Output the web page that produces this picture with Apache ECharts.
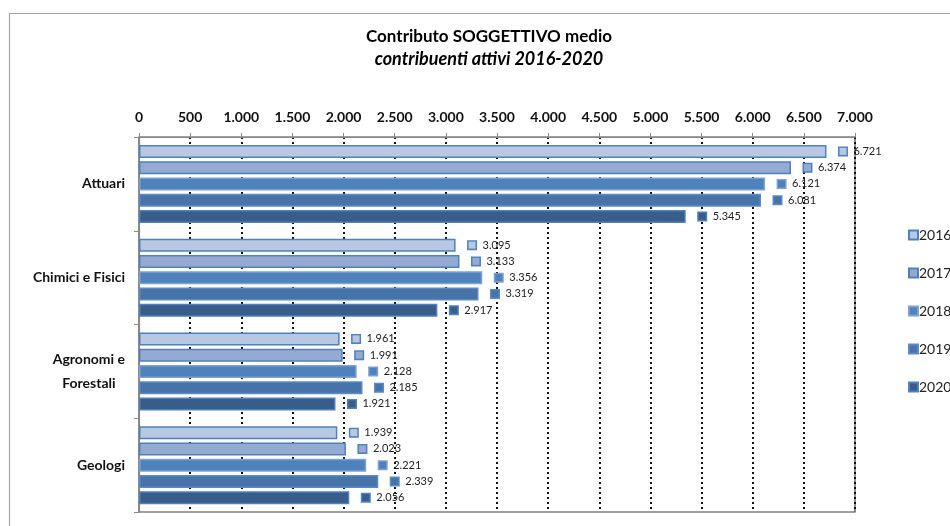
<!DOCTYPE html>
<html><head><meta charset="utf-8">
<script src="https://cdn.jsdelivr.net/npm/echarts@6/dist/echarts.min.js"></script>
<style>html,body{margin:0;padding:0;background:#fff}#c{width:950px;height:526px}</style>
</head><body><div id="c"></div>
<script>
var categories = ['Attuari', 'Chimici e Fisici', 'Agronomi e\nForestali', 'Geologi'];
var years = ['2016', '2017', '2018', '2019', '2020'];
var v2016 = [6721, 3095, 1961, 1939];
var v2017 = [6374, 3133, 1991, 2023];
var v2018 = [6121, 3356, 2128, 2221];
var v2019 = [6081, 3319, 2185, 2339];
var v2020 = [5345, 2917, 1921, 2056];
var seriesValues = [v2016, v2017, v2018, v2019, v2020];
var fills = ['#B9C8E2', '#95AAD2', '#4F81BD', '#4673A8', '#385D8A'];
var borders = ['#4F81BD', '#4F81BD', '#7EA1D3', '#5B8AC6', '#4F81BD'];
var FONT = 'Lato, "Liberation Sans", sans-serif';

function fmt(v) { return String(v).replace(/\B(?=(\d{3})+(?!\d))/g, '.'); }

var chart = echarts.init(document.getElementById('c'), null, {renderer: 'canvas'});
var series = years.map(function (y, i) {
  return {
    name: y, type: 'bar', data: seriesValues[i],
    barWidth: 13, barGap: '25%',
    itemStyle: {color: fills[i], borderColor: borders[i], borderWidth: 1.5},
    label: {
      show: true, position: 'right', distance: 13,
      formatter: function (p) { return '{sq|}{t|' + fmt(p.value) + '}'; },
      rich: {
        sq: {width: 7, height: 7, backgroundColor: fills[i], borderColor: borders[i], borderWidth: 1.5},
        t: {fontFamily: FONT, fontSize: 11, color: '#222', padding: [0, 0, 0, 7]}
      }
    }
  };
});

chart.setOption({
  animation: false,
  backgroundColor: '#fff',
  graphic: [{type: 'rect', left: 7, top: 11, shape: {width: 1100, height: 800}, style: {fill: 'none', stroke: '#A6A6A6', lineWidth: 1.2}, silent: true, z: -1}],
  title: {
    text: 'Contributo SOGGETTIVO medio',
    subtext: 'contribuenti attivi 2016-2020',
    left: 484, textAlign: 'center', top: 23, itemGap: 5,
    textStyle: {fontFamily: FONT, fontSize: 17, fontWeight: 'bold', color: '#000'},
    subtextStyle: {fontFamily: FONT, fontSize: 18, fontWeight: 'bold', fontStyle: 'italic', color: '#000'}
  },
  legend: {
    orient: 'vertical', left: 903, top: 223, itemGap: 24,
    itemWidth: 9, itemHeight: 9, icon: 'rect',
    textStyle: {fontFamily: FONT, fontSize: 14, color: '#222', padding: [0, 0, 0, -4]},
    data: years
  },
  grid: {left: 139, right: 95, top: 137, bottom: 14, show: true, borderColor: '#404040', borderWidth: 1.2},
  xAxis: {
    type: 'value', position: 'top', min: 0, max: 7000, interval: 500,
    axisLine: {show: true, lineStyle: {color: '#888', width: 1.2}},
    axisTick: {show: true, length: 4, lineStyle: {color: '#888'}},
    axisLabel: {fontFamily: FONT, fontSize: 14, fontWeight: 'bold', color: '#111', margin: 13, formatter: fmt},
    splitLine: {show: true, showMinLine: false, lineStyle: {color: '#111', type: [2, 3], width: 2}}
  },
  yAxis: {
    type: 'category', data: categories, inverse: true,
    axisLine: {show: true, lineStyle: {color: '#888', width: 1.2}},
    axisTick: {show: true, length: 5, lineStyle: {color: '#888'}},
    axisLabel: {
      fontFamily: FONT, fontSize: 14, fontWeight: 'bold', color: '#111', margin: 14, lineHeight: 24,
      formatter: function (v) {
        return v.split('\n').map(function (s) { return '{c|' + s + '}'; }).join('\n');
      },
      rich: {c: {align: 'center', fontFamily: FONT, fontSize: 14, fontWeight: 'bold', color: '#111', lineHeight: 24}}
    }
  },
  series: series
});
</script></body></html>
